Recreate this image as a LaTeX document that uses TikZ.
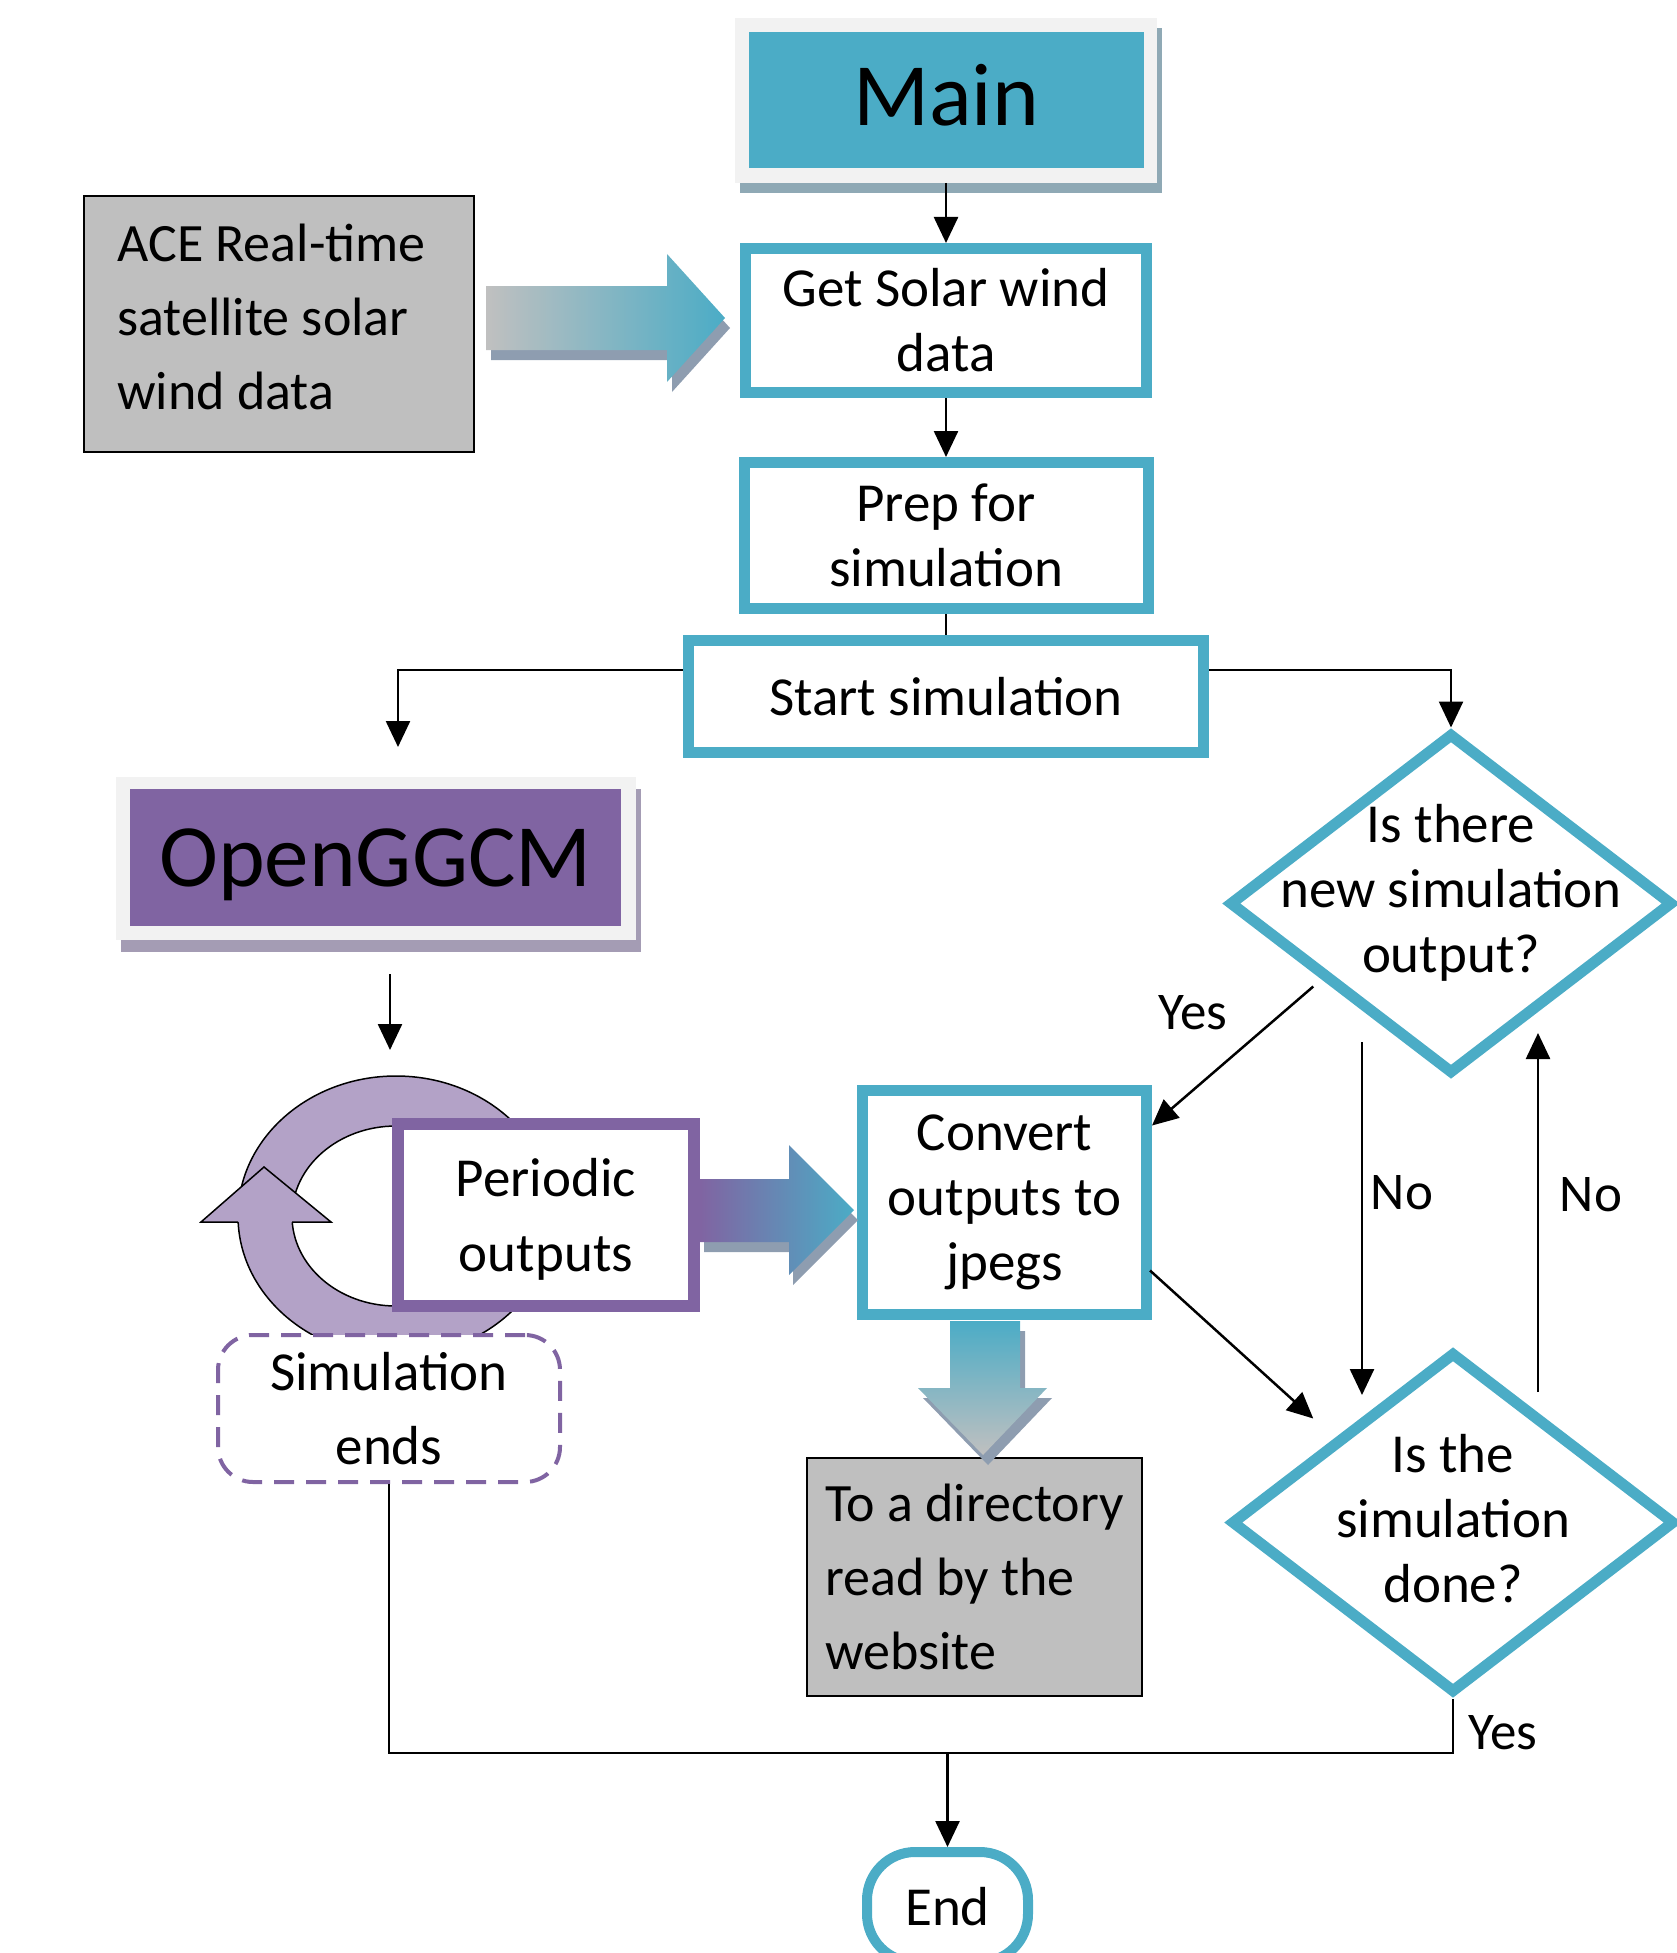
\documentclass[tikz,border=0pt]{standalone}
\usepackage{fontspec}
\setmainfont{Carlito}
\usetikzlibrary{arrows.meta,shapes.geometric,calc}
\definecolor{teal5}{HTML}{4BACC6}
\definecolor{purp}{HTML}{8064A2}
\definecolor{lpurp}{HTML}{B3A2C7}
\definecolor{grayfill}{HTML}{BFBFBF}
\definecolor{frameg}{HTML}{F2F2F2}
\definecolor{shadt}{HTML}{8FA9B5}
\definecolor{shadp}{HTML}{A49CB4}
\definecolor{shadg}{HTML}{8E9DB0}
\definecolor{arrgray}{HTML}{C0C0C0}
\begin{document}
\begin{tikzpicture}[x=1pt,y=-1pt,
  txt/.style={font=\fontsize{55}{65}\selectfont,align=center},
  bigtxt/.style={font=\fontsize{89}{100}\selectfont},
  plainbox/.style={inner sep=0pt,outer sep=0pt,anchor=north west},
  tbox/.style={draw=teal5,line width=11pt,fill=white,inner sep=0pt,txt},
  gbox/.style={draw=black,line width=2pt,fill=grayfill,inner sep=0pt,align=left,font=\fontsize{54}{74}\selectfont},
  conn/.style={line width=2.5pt,draw=black},
  arr/.style={conn,-{Triangle[length=26pt,width=24pt]}},
  lbl/.style={font=\fontsize{53}{64}\selectfont,inner sep=0pt},
  dmd/.style={diamond,draw=teal5,line width=11pt,fill=white,inner sep=0pt,minimum width=444pt,minimum height=341pt},
  ringline/.style={line width=1.5pt,draw=black}]
\useasboundingbox (0,0) rectangle (1676,1953);

% ---------- Main ----------
\node[plainbox,fill=shadt,minimum width=422pt,minimum height=165pt] (mainshadow) at (740,28) {};
\node[plainbox,fill=frameg,minimum width=422pt,minimum height=165pt] (mainframe) at (735,18) {};
\node[inner sep=0pt,fill=teal5,minimum width=395pt,minimum height=136pt,bigtxt,text depth=10pt] (main) at (946,100) {Main};

% ---------- ACE ----------
\node[gbox,minimum width=390pt,minimum height=256pt,text depth=15pt] (ace) at (279,324) {ACE Real-time\hspace*{15pt}\\satellite solar\\wind data};

% ---------- flow boxes ----------
\node[tbox,minimum width=401pt,minimum height=144pt] (getsolar) at (946,320.5) {Get Solar wind\\data};
\node[tbox,minimum width=404pt,minimum height=146pt] (prep) at (946,535.5) {Prep for\\simulation};
\node[tbox,minimum width=515pt,minimum height=112pt] (start) at (946,696.5) {Start simulation};

% block arrow ACE -> Get Solar
\begin{scope}[shift={(5,10)}]
\fill[shadg] (486,286) -- (667,286) -- (667,254) -- (725,318) -- (667,382) -- (667,350) -- (486,350) -- cycle;
\end{scope}
\shade[left color=arrgray,right color=teal5] (486,286) -- (667,286) -- (667,254) -- (725,318) -- (667,382) -- (667,350) -- (486,350) -- cycle;

\draw[arr] (getsolar.north |- mainframe.south) -- (getsolar.north);
\draw[arr] (getsolar.south) -- (prep.north);
\draw[conn] (prep.south) -- (start.north);

% ---------- OpenGGCM ----------
\node[plainbox,fill=shadp,minimum width=520pt,minimum height=163pt] (ogshadow) at (121,789) {};
\node[plainbox,fill=frameg,minimum width=520pt,minimum height=163pt] (ogframe) at (116,777) {};
\node[inner sep=0pt,fill=purp,minimum width=491pt,minimum height=137pt,bigtxt,text depth=0pt] (ogg) at (375.5,857.5) {OpenGGCM};

\coordinate (sl) at (398,670);
\coordinate (ogin) at (398,747);
\draw[arr] (start.west |- sl) -- (sl) -- (ogin);
\coordinate (oga) at (390,974);
\coordinate (ogb) at (390,1050);
\draw[arr] (oga) -- (ogb);

% ---------- circular arrow ----------
\fill[lpurp,even odd rule] (396,1216) ellipse [x radius=158pt,y radius=140pt] (396,1216) ellipse [x radius=104pt,y radius=90pt];
\draw[ringline] (396,1216) ellipse [x radius=158pt,y radius=140pt];
\draw[ringline] (396,1216) ellipse [x radius=104pt,y radius=90pt];
\fill[lpurp] (264,1167) -- (201,1222) -- (331,1222) -- cycle;
\draw[ringline,line join=miter] (238,1222) -- (201,1222) -- (264,1167) -- (331,1222) -- (292,1222);

% ---------- Periodic outputs ----------
\node[draw=purp,line width=12pt,fill=white,inner sep=0pt,minimum width=296pt,minimum height=182pt,align=center,font=\fontsize{55}{75}\selectfont,text depth=0pt] (periodic) at (546,1215) {Periodic\\outputs};

\node[draw=purp,line width=4pt,dash pattern=on 20pt off 12pt,rounded corners=35pt,fill=white,inner sep=0pt,minimum width=342pt,minimum height=147pt,align=center,font=\fontsize{55}{74}\selectfont] (simends) at (389,1408.5) {Simulation\\ends};

% ---------- Convert ----------
\node[tbox,minimum width=284pt,minimum height=224pt] (convert) at (1004.5,1202.5) {Convert\\outputs to\\jpegs};

% block arrow Periodic -> Convert
\begin{scope}[shift={(4,10)}]
\fill[shadg] (700,1179) -- (789,1179) -- (789,1145) -- (854,1210) -- (789,1275) -- (789,1242) -- (700,1242) -- cycle;
\end{scope}
\shade[left color=purp,right color=teal5] (700,1179) -- (789,1179) -- (789,1145) -- (854,1210) -- (789,1275) -- (789,1242) -- (700,1242) -- cycle;

% ---------- directory ----------
\node[gbox,minimum width=335pt,minimum height=238pt] (dir) at (974.5,1577) {To a directory\\read by the\\website};

% block arrow Convert -> directory
\begin{scope}[shift={(5,10)}]
\fill[shadg] (950,1321) -- (1020,1321) -- (1020,1388) -- (1047,1388) -- (983,1455) -- (918,1388) -- (950,1388) -- cycle;
\end{scope}
\shade[top color=teal5,bottom color=arrgray] (950,1321) -- (1020,1321) -- (1020,1388) -- (1047,1388) -- (983,1455) -- (918,1388) -- (950,1388) -- cycle;

% ---------- decisions ----------
\node[dmd] (d1) at (1451,903.5) {};
\node[txt,inner sep=0pt] (d1t) at (1451,893) {Is there\\new simulation\\output?};
\node[dmd] (d2) at (1453,1522.5) {};
\node[txt,inner sep=0pt] (d2t) at (1453,1519) {Is the\\simulation\\done?};

\coordinate (sr) at (1451,670);
\draw[arr] (start.east |- sr) -- (sr) -- (d1.north);

\draw[arr] ($(d1.south west)+(-24,-5)$) -- ($(convert.east)+(0,-77)$);
\node[lbl] (yes1) at (1193,1013) {Yes};
\draw[arr] ($(convert.east)+(-2,68)$) -- ($(d2.north west)+(-26,-16)$);

\coordinate (n1a) at (1362,1042);
\coordinate (n1b) at (1362,1395);
\draw[arr] (n1a) -- (n1b);
\node[lbl] (no1) at (1402,1193) {No};
\coordinate (n2a) at (1538,1392);
\coordinate (n2b) at (1538,1033);
\draw[arr] (n2a) -- (n2b);
\node[lbl] (no2) at (1591,1195) {No};

% ---------- End ----------
\node[draw=teal5,line width=10pt,rounded corners=48pt,fill=white,inner sep=0pt,minimum width=161pt,minimum height=110pt,font=\fontsize{55}{65}\selectfont] (end) at (947.5,1907) {End};

\coordinate (ybot) at (0,1753);
\draw[conn] (simends.south) -- (simends.south |- ybot) -- (d2.south |- ybot) -- (d2.south);
\draw[arr] (end.north |- ybot) -- (end.north);
\node[lbl] (yes2) at (1503,1733) {Yes};
\end{tikzpicture}
\end{document}
